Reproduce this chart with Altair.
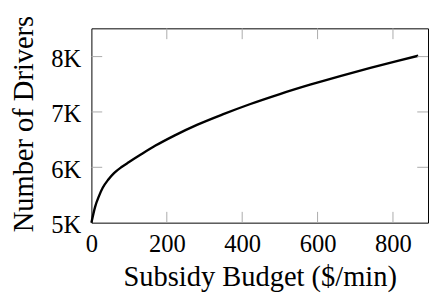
import altair as alt
import pandas as pd

# Data
budget = [0, 10, 20, 30, 45, 60, 80, 100, 130, 170, 220, 280, 350, 420, 500, 580, 660, 740, 810, 867]
drivers = [5000, 5290, 5480, 5630, 5780, 5895, 6005, 6095, 6225, 6392, 6573, 6766, 6960, 7139, 7323, 7492, 7649, 7796, 7918, 8015]

x_ticks = [0, 200, 400, 600, 800]
y_ticks = [5000, 6000, 7000, 8000]
x_inner_ticks = [200, 400, 600, 800]
y_inner_ticks = [6000, 7000, 8000]

x_domain = [0, 893]
y_domain = [5000, 8510]

W, H = 343, 198
TICK_LEN = 11
TICK_COLOR = "#aaaaaa"
LABEL_FONT = "Liberation Serif"
TITLE_FONT = "Liberation Serif"

df = pd.DataFrame({"budget": budget, "drivers": drivers})
dfx = pd.DataFrame({"v": x_inner_ticks})
dfy = pd.DataFrame({"v": y_inner_ticks})

xscale = alt.Scale(domain=x_domain, nice=False, zero=False)
yscale = alt.Scale(domain=y_domain, nice=False, zero=False)

x_axis = alt.Axis(
    title="Subsidy Budget ($/min)",
    values=x_ticks,
    grid=False, domain=False, ticks=False, tickSize=0,
    labelFont=LABEL_FONT, labelFontSize=25, labelColor="black",
    labelBaseline="alphabetic", labelPadding=29,
    labelFlush=False, labelOverlap=False, labelBound=False,
    titleFont=TITLE_FONT, titleFontSize=29, titleFontWeight="normal",
    titleColor="black", titleX=W / 2, titleY=64,
    titleAlign="center", titleBaseline="alphabetic",
)
y_axis = alt.Axis(
    title="Number of Drivers",
    values=y_ticks,
    labelExpr="datum.value / 1000 + 'K'",
    grid=False, domain=False, ticks=False, tickSize=0,
    labelFont=LABEL_FONT, labelFontSize=25, labelColor="black",
    labelBaseline="alphabetic", labelPadding=11, labelOffset=10,
    labelFlush=False, labelOverlap=False, labelBound=False,
    titleFont=TITLE_FONT, titleFontSize=29, titleFontWeight="normal",
    titleColor="black", titleX=-60, titleY=97, titleAngle=270,
    titleAlign="center", titleBaseline="alphabetic",
)

line = alt.Chart(df).mark_line(color="black", strokeWidth=2.4, interpolate="monotone").encode(
    x=alt.X("budget:Q", scale=xscale, axis=x_axis),
    y=alt.Y("drivers:Q", scale=yscale, axis=y_axis),
)

xt_bottom = alt.Chart(dfx).mark_rule(color=TICK_COLOR, strokeWidth=1).encode(
    x=alt.X("v:Q", scale=xscale, axis=x_axis),
    y=alt.value(H), y2=alt.value(H - TICK_LEN),
)
xt_top = alt.Chart(dfx).mark_rule(color=TICK_COLOR, strokeWidth=1).encode(
    x=alt.X("v:Q", scale=xscale, axis=x_axis),
    y=alt.value(0), y2=alt.value(TICK_LEN),
)
yt_left = alt.Chart(dfy).mark_rule(color=TICK_COLOR, strokeWidth=1).encode(
    y=alt.Y("v:Q", scale=yscale, axis=y_axis),
    x=alt.value(0), x2=alt.value(TICK_LEN),
)
yt_right = alt.Chart(dfy).mark_rule(color=TICK_COLOR, strokeWidth=1).encode(
    y=alt.Y("v:Q", scale=yscale, axis=y_axis),
    x=alt.value(W - TICK_LEN), x2=alt.value(W),
)

chart = alt.layer(line, xt_bottom, xt_top, yt_left, yt_right).properties(
    width=W, height=H,
    autosize=alt.AutoSizeParams(type="none"),
    padding={"left": 85, "top": 18, "right": 1, "bottom": 72},
).configure(background="white").configure_view(stroke="black", strokeWidth=1)

chart.save("out.html", embed_options={"renderer": "svg", "actions": False})
